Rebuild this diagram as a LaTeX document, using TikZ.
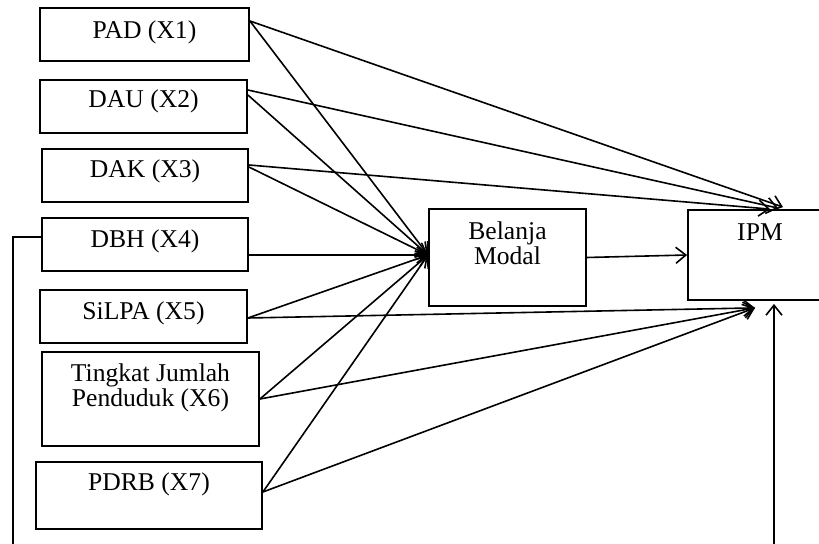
\documentclass[tikz,border=0pt]{standalone}
\usepackage{fontspec}
\setmainfont{Liberation Serif}
\usetikzlibrary{arrows.meta}
\tikzset{
  varbox/.style={draw, line width=0.9pt, minimum height=26.5pt, inner sep=0pt},
  varlab/.style={anchor=north, align=center, inner sep=0pt,
                 font=\fontsize{12.8}{12.5}\selectfont},
  pathar/.style={-{Straight Barb[length=5pt,width=8pt]}, line width=0.8pt},
}

\begin{document}
\begin{tikzpicture}[x=0.5pt, y=-0.5pt]
  \useasboundingbox (0,0) rectangle (819,544);

  % independent variables
  \node[varbox, minimum width=104.5pt] (pad) at (144.5,34.5) {};
  \node[varbox, minimum width=103.5pt] (dau) at (143.5,106.5) {};
  \node[varbox, minimum width=103pt] (dak) at (145,175.5) {};
  \node[varbox, minimum width=103pt] (dbh) at (145,244.5) {};
  \node[varbox, minimum width=103.5pt] (silpa) at (143.5,316.5) {};
  \node[varbox, minimum width=108.5pt, minimum height=47pt] (tjp) at (150.5,399) {};
  \node[varbox, minimum width=113pt, minimum height=33.5pt] (pdrb) at (149,495.5) {};

  \node[varlab] (padlab) at ([yshift=-6.5pt]pad.north) {PAD (X1)};
  \node[varlab] (daulab) at ([yshift=-5pt]dau.north) {DAU (X2)};
  \node[varlab] (daklab) at ([yshift=-5.5pt]dak.north) {DAK (X3)};
  \node[varlab] (dbhlab) at ([yshift=-6pt]dbh.north) {DBH (X4)};
  \node[varlab] (silpalab) at ([yshift=-6pt]silpa.north) {SiLPA (X5)};
  \node[varlab] (tjplab) at ([yshift=-6pt]tjp.north) {Tingkat Jumlah\\Penduduk (X6)};
  \node[varlab] (pdrblab) at ([yshift=-5.5pt]pdrb.north) {PDRB (X7)};

  % intervening and dependent variables
  \node[varbox, minimum width=78.5pt, minimum height=48.5pt] (bm) at (507.5,257.5) {};
  \node[varbox, minimum width=67pt, minimum height=45pt] (ipm) at (755,255) {};
  \node[varlab] (bmlab) at ([yshift=-6.5pt]bm.north) {Belanja\\Modal};
  \node[varlab] (ipmlab) at ([xshift=2.5pt,yshift=-7pt]ipm.north) {IPM};

  \coordinate (bmin) at ([yshift=1.25pt]bm.west);

  % paths to Belanja Modal
  \draw[pathar] ([yshift=6.75pt]pad.east) -- (bmin);
  \draw[pathar] ([yshift=5.75pt]dau.east) -- (bmin);
  \draw[pathar] ([yshift=4.25pt]dak.east) -- (bmin);
  \draw[pathar] ([yshift=-5.25pt]dbh.east) -- (bmin);
  \draw[pathar] ([yshift=-0.75pt]silpa.east) -- (bmin);
  \draw[pathar] (tjp.east) -- (bmin);
  \draw[pathar] ([yshift=1.75pt]pdrb.east) -- (bmin);

  % paths to IPM
  \draw[pathar] ([yshift=6.75pt]pad.east) -- ([xshift=14pt,yshift=1pt]ipm.north);
  \draw[pathar] ([yshift=8.25pt]dau.east) -- ([xshift=11.5pt,yshift=0.5pt]ipm.north);
  \draw[pathar] ([yshift=5.25pt]dak.east) -- ([xshift=7.5pt]ipm.north);
  \draw[pathar] ([yshift=-0.75pt]silpa.east) -- ([yshift=-3.5pt]ipm.south);
  \draw[pathar] (tjp.east) -- ([yshift=-3.5pt]ipm.south);
  \draw[pathar] ([yshift=1.75pt]pdrb.east) -- ([yshift=-3.5pt]ipm.south);
  \draw[pathar] (bm.east) -- (ipm.west);

  % direct path DBH to IPM round the bottom
  \coordinate (loopbot) at (13,560);
  \draw[pathar] ([yshift=3.75pt]dbh.west) -| (loopbot)
    -| ([xshift=9.5pt,yshift=-1.5pt]ipm.south);
\end{tikzpicture}
\end{document}
